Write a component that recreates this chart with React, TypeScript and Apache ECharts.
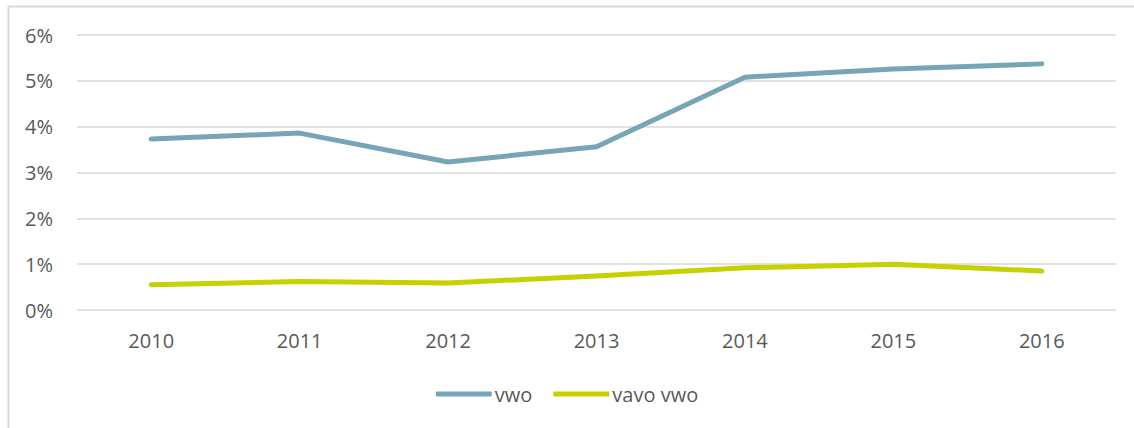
import React, { useEffect, useRef } from "react";
import * as echarts from "echarts";

const years = ["2010", "2011", "2012", "2013", "2014", "2015", "2016"];
const vwo = [3.73, 3.86, 3.23, 3.56, 5.08, 5.26, 5.37];
const vavoVwo = [0.55, 0.62, 0.59, 0.74, 0.92, 1.0, 0.85];
const yTicks = [0, 1, 2, 3, 4, 5, 6];

export default function App() {
  const ref = useRef<HTMLDivElement>(null);
  useEffect(() => {
    if (!ref.current) return;
    const chart = echarts.init(ref.current, null, { renderer: "svg" });
    const font = "'Open Sans', 'Noto Sans', sans-serif";
    chart.setOption({
      animation: false,
      textStyle: { fontFamily: font },
      graphic: [
        {
          type: "rect",
          shape: { x: 8.5, y: 6.5, width: 1200, height: 600 },
          style: { fill: "none", stroke: "#d9d9d9", lineWidth: 2 },
          silent: true,
        },
      ],
      grid: { left: 77, right: 18, top: 35, bottom: 118 },
      xAxis: {
        type: "category",
        data: years,
        boundaryGap: true,
        axisLine: { show: false },
        axisTick: { show: false },
        axisLabel: { color: "#595959", fontSize: 20, margin: 20, fontFamily: font },
      },
      yAxis: {
        type: "value",
        min: yTicks[0],
        max: yTicks[yTicks.length - 1],
        interval: 1,
        axisLine: { show: false },
        axisTick: { show: false },
        splitLine: { lineStyle: { color: "#d9d9d9", width: 1.5 } },
        axisLabel: {
          color: "#595959",
          fontSize: 20,
          margin: 24,
          fontFamily: font,
          formatter: (v: number) => v + "%",
        },
      },
      legend: {
        bottom: 19,
        left: "center",
        itemWidth: 56,
        itemHeight: 5,
        itemGap: 21,
        icon: "roundRect",
        textStyle: { color: "#595959", fontSize: 20, fontFamily: font, padding: [0, 0, 0, -2] },
        data: ["vwo", "vavo vwo"],
      },
      series: [
        {
          name: "vwo",
          type: "line",
          data: vwo,
          symbol: "none",
          lineStyle: { color: "#76A5B8", width: 5, cap: "round", join: "round" },
          itemStyle: { color: "#76A5B8" },
        },
        {
          name: "vavo vwo",
          type: "line",
          data: vavoVwo,
          symbol: "none",
          lineStyle: { color: "#C3D200", width: 5, cap: "round", join: "round" },
          itemStyle: { color: "#C3D200" },
        },
      ],
    });
    return () => chart.dispose();
  }, []);
  return (
    <div
      ref={ref}
      style={{ position: "fixed", left: 0, top: 0, width: 1134, height: 428, background: "#fff" }}
    />
  );
}
